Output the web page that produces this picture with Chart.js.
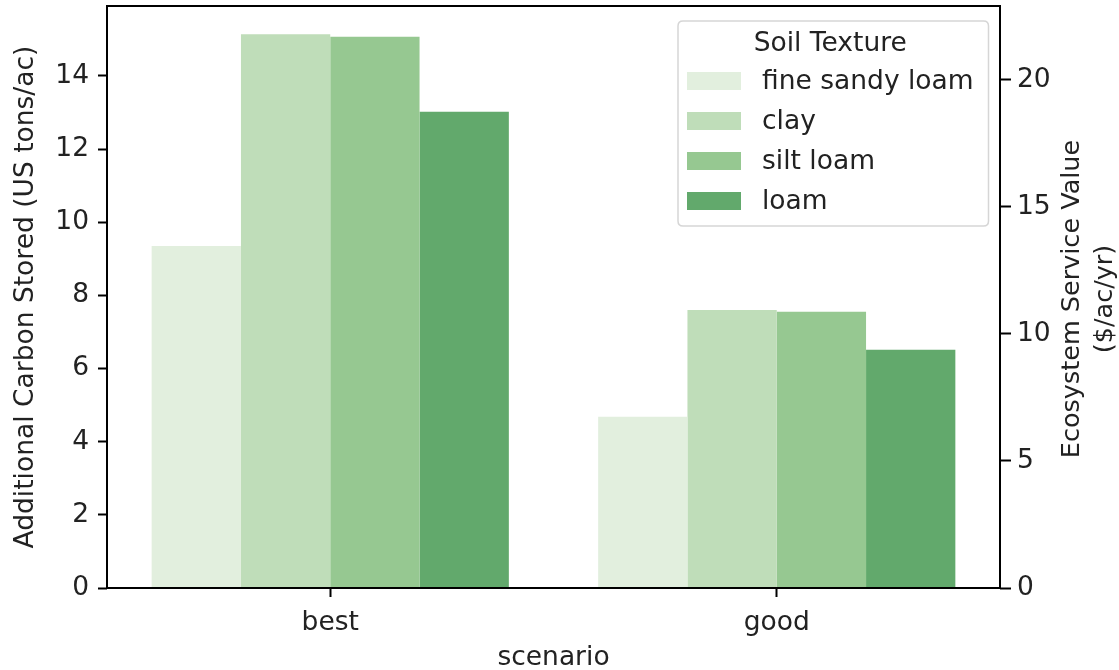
<!DOCTYPE html>
<html>
<head>
<meta charset="utf-8">
<title>Soil Texture</title>
<script src="https://cdn.jsdelivr.net/npm/chart.js@4.4.1/dist/chart.umd.min.js"></script>
<style>
    body { margin: 0; background: #fff; }
    #wrap { width: 1119px; height: 670px; }
</style>
</head>
<body>
<div id="wrap"><canvas id="chartBars" width="1119" height="670"></canvas></div>
<script>
// data
var scenarios = ['best', 'good'];
var soilTextures = ['fine sandy loam', 'clay', 'silt loam', 'loam'];
var fineSandyLoam = [9.35, 4.68];
var clay = [15.14, 7.60];
var siltLoam = [15.07, 7.55];
var loam = [13.02, 6.51];
var carbonTicks = [0, 2, 4, 6, 8, 10, 12, 14];
var valueTicks = [0, 5, 10, 15, 20];
var carbonMax = 15.91;
var valueMax = 22.9;

var barColors = ['#e2efde', '#bfddb9', '#96c891', '#62a96c'];
var fontName = 'DejaVu Sans';
var fontSize = 26.5;
var textColor = '#222222';

var series = [fineSandyLoam, clay, siltLoam, loam];
var datasets = [];
for (var i = 0; i < soilTextures.length; i++) {
    datasets.push({
        label: soilTextures[i],
        data: series[i],
        backgroundColor: barColors[i],
        borderWidth: 0,
        categoryPercentage: 0.8,
        barPercentage: 1.0,
        yAxisID: 'y'
    });
}

// box round the plot, legend and right axis title
var framePlugin = {
    id: 'frame',
    afterDraw: function (chart) {
        var ctx = chart.ctx;
        var a = chart.chartArea;
        ctx.save();
        ctx.strokeStyle = '#000';
        ctx.lineWidth = 2;
        ctx.strokeRect(a.left, a.top, a.right - a.left, a.bottom - a.top);

        // legend
        var boxR = a.right - 11.5, boxT = a.top + 15;
        var boxL = 678, boxB = 226;
        var r = 5;
        ctx.beginPath();
        ctx.moveTo(boxL + r, boxT);
        ctx.lineTo(boxR - r, boxT);
        ctx.quadraticCurveTo(boxR, boxT, boxR, boxT + r);
        ctx.lineTo(boxR, boxB - r);
        ctx.quadraticCurveTo(boxR, boxB, boxR - r, boxB);
        ctx.lineTo(boxL + r, boxB);
        ctx.quadraticCurveTo(boxL, boxB, boxL, boxB - r);
        ctx.lineTo(boxL, boxT + r);
        ctx.quadraticCurveTo(boxL, boxT, boxL + r, boxT);
        ctx.closePath();
        ctx.fillStyle = 'rgba(255,255,255,0.8)';
        ctx.fill();
        ctx.strokeStyle = '#d6d6d6';
        ctx.lineWidth = 1.5;
        ctx.stroke();

        ctx.font = fontSize + 'px "' + fontName + '"';
        ctx.fillStyle = textColor;
        ctx.textAlign = 'center';
        ctx.textBaseline = 'middle';
        ctx.fillText('Soil Texture', (boxL + boxR) / 2 - 3, 44);

        ctx.textAlign = 'left';
        chart.data.datasets.forEach(function (ds, k) {
            var yc = 81 + k * 40;
            ctx.fillStyle = ds.backgroundColor;
            ctx.fillRect(687, yc - 9, 54, 18);
            ctx.fillStyle = textColor;
            ctx.fillText(ds.label, 762, yc + 1);
        });

        // right axis title, reads bottom to top like matplotlib
        var yc2 = (a.top + a.bottom) / 2 + 2;
        ctx.font = '25.5px "' + fontName + '"';
        ctx.translate(1072, yc2);
        ctx.rotate(-Math.PI / 2);
        ctx.textAlign = 'center';
        ctx.fillText('Ecosystem Service Value', 0, 0);
        ctx.fillText('($/ac/yr)', 0, 33);
        ctx.restore();
    }
};

function noPad(s) {
    s.paddingTop = 0;
    s.paddingBottom = 0;
}

var ctxBars = document.getElementById('chartBars');
var chartBars = new Chart(ctxBars, {
    type: 'bar',
    data: {
        labels: scenarios,
        datasets: datasets
    },
    options: {
        responsive: false,
        animation: false,
        layout: { padding: { top: 6, left: 0, right: 0, bottom: 0 } },
        plugins: {
            legend: { display: false },
            tooltip: { enabled: false }
        },
        scales: {
            x: {
                grid: { offset: false, drawOnChartArea: false, tickLength: 9, tickWidth: 2, tickColor: '#000' },
                border: { display: false },
                ticks: { color: textColor, padding: 10, font: { family: fontName, size: fontSize } },
                title: {
                    display: true, text: 'scenario', color: textColor,
                    padding: { top: 0, bottom: 0 },
                    font: { family: fontName, size: fontSize, lineHeight: 0.9 }
                },
                afterFit: function (s) { s.height = 82; s.paddingLeft = 0; s.paddingRight = 0; }
            },
            y: {
                position: 'left',
                min: 0,
                max: carbonMax,
                grid: { drawOnChartArea: false, tickLength: 9, tickWidth: 2, tickColor: '#000' },
                border: { display: false },
                ticks: { stepSize: 2, color: textColor, padding: 9, font: { family: fontName, size: fontSize } },
                afterBuildTicks: function (s) {
                    s.ticks = carbonTicks.map(function (v) { return { value: v }; });
                },
                title: {
                    display: true, text: 'Additional Carbon Stored (US tons/ac)', color: textColor,
                    padding: { top: 10, bottom: 0 },
                    font: { family: fontName, size: fontSize }
                },
                afterFit: function (s) { s.width = 107; noPad(s); }
            },
            y1: {
                position: 'right',
                min: 0,
                max: valueMax,
                grid: { drawOnChartArea: false, tickLength: 11, tickWidth: 2, tickColor: '#000' },
                border: { display: false },
                ticks: { stepSize: 5, color: textColor, padding: 6, font: { family: fontName, size: fontSize } },
                afterBuildTicks: function (s) {
                    s.ticks = valueTicks.map(function (v) { return { value: v }; });
                },
                afterFit: function (s) { s.width = 119; noPad(s); }
            }
        }
    },
    plugins: [framePlugin]
});
</script>
</body>
</html>
